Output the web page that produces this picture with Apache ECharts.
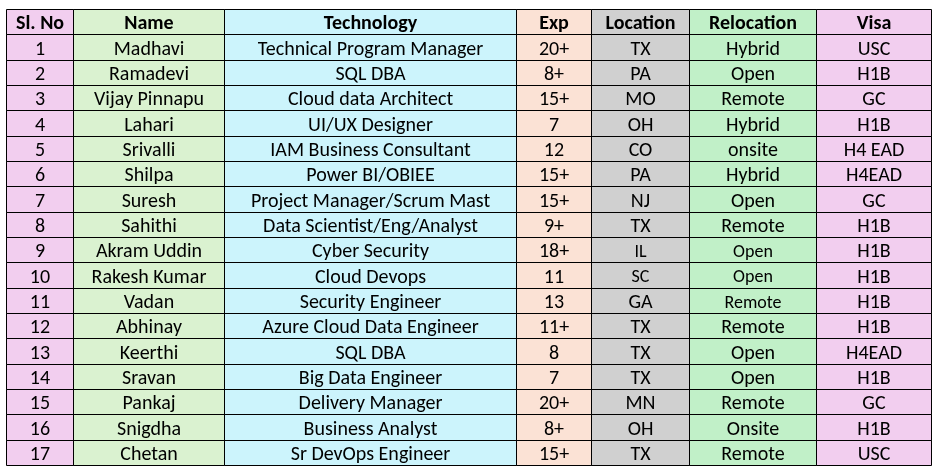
<!DOCTYPE html>
<html>
<head>
<meta charset="utf-8">
<script src="https://cdn.jsdelivr.net/npm/echarts@6/dist/echarts.min.js"></script>
<style>
html,body{margin:0;padding:0;background:#fff;}
#chart{width:937px;height:475px;}
</style>
</head>
<body>
<div id="chart"></div>
<script>
const headers = ['Sl. No', 'Name', 'Technology', 'Exp', 'Location', 'Relocation', 'Visa'];
const slNo = ['1','2','3','4','5','6','7','8','9','10','11','12','13','14','15','16','17'];
const names = ['Madhavi','Ramadevi','Vijay Pinnapu','Lahari','Srivalli','Shilpa','Suresh','Sahithi','Akram Uddin','Rakesh Kumar','Vadan','Abhinay','Keerthi','Sravan','Pankaj','Snigdha','Chetan'];
const technologies = ['Technical Program Manager','SQL DBA','Cloud data Architect','UI/UX Designer','IAM Business Consultant','Power BI/OBIEE','Project Manager/Scrum Mast','Data Scientist/Eng/Analyst','Cyber Security','Cloud Devops','Security Engineer','Azure Cloud Data Engineer','SQL DBA','Big Data Engineer','Delivery Manager','Business Analyst','Sr DevOps Engineer'];
const exp = ['20+','8+','15+','7','12','15+','15+','9+','18+','11','13','11+','8','7','20+','8+','15+'];
const locations = ['TX','PA','MO','OH','CO','PA','NJ','TX','IL','SC','GA','TX','TX','TX','MN','OH','TX'];
const relocations = ['Hybrid','Open','Remote','Hybrid','onsite','Hybrid','Open','Remote','Open','Open','Remote','Remote','Open','Open','Remote','Onsite','Remote'];
const visas = ['USC','H1B','GC','H1B','H4 EAD','H4EAD','GC','H1B','H1B','H1B','H1B','H1B','H4EAD','H1B','GC','H1B','USC'];

// layout / style (not data)
const colEdges = [0, 67, 218, 510, 585, 683, 810, 925];
const colColors = ['#F2CEEF', '#DAF2D0', '#CCF4FC', '#FBE2D5', '#D0D0D0', '#C1F0C8', '#F2CEEF'];
const smallCells = {'9-4': 1, '9-5': 1, '10-4': 1, '10-5': 1, '11-5': 1};
const FONT = 'Carlito, Lato, "Liberation Sans", sans-serif';

const columns = [slNo, names, technologies, exp, locations, relocations, visas];
const cellData = [];
for (let c = 0; c < headers.length; c++) {
  cellData.push([c, 0, headers[c], 1]);
  for (let r = 0; r < slNo.length; r++) {
    cellData.push([c, r + 1, columns[c][r], 0]);
  }
}

function snap(v) { return Math.round(v - 0.5) + 0.5; }

function cellRect(api, c, r) {
  const p0 = api.coord([colEdges[c], r]);
  const p1 = api.coord([colEdges[c + 1], r + 1]);
  const x0 = snap(p0[0]), x1 = snap(p1[0]);
  const y0 = snap(p0[1]), y1 = snap(p1[1]);
  return {x: x0, y: y0, width: x1 - x0, height: y1 - y0};
}

const chart = echarts.init(document.getElementById('chart'), null, {renderer: 'canvas'});
chart.setOption({
  animation: false,
  backgroundColor: '#ffffff',
  grid: {left: 6.5, top: 9.5, width: 925, height: 456, containLabel: false},
  xAxis: {type: 'value', min: 0, max: 925, show: false},
  yAxis: {type: 'value', min: 0, max: 18, inverse: true, show: false},
  series: [
    {
      type: 'custom',
      coordinateSystem: 'cartesian2d',
      data: cellData,
      z: 1,
      renderItem: function (params, api) {
        const c = api.value(0), r = api.value(1);
        const d = cellData[params.dataIndex];
        const rect = cellRect(api, c, r);
        const isHeader = d[3] === 1;
        const small = smallCells[r + '-' + c];
        return {
          type: 'group',
          children: [
            {type: 'rect', shape: rect, style: {fill: colColors[c]}},
            {type: 'text', style: {
              text: d[2],
              x: rect.x + rect.width / 2,
              y: rect.y + rect.height / 2 + 2,
              align: 'center',
              verticalAlign: 'middle',
              fill: '#000',
              fontFamily: FONT,
              fontSize: isHeader ? 20 : (small ? 18 : 20),
              fontWeight: isHeader ? 'bold' : 'normal'
            }}
          ]
        };
      }
    },
    {
      type: 'custom',
      coordinateSystem: 'cartesian2d',
      data: cellData,
      z: 2,
      silent: true,
      renderItem: function (params, api) {
        const rect = cellRect(api, api.value(0), api.value(1));
        return {type: 'rect', shape: rect, style: {fill: null, stroke: '#000', lineWidth: 1}};
      }
    }
  ]
});
</script>
</body>
</html>
